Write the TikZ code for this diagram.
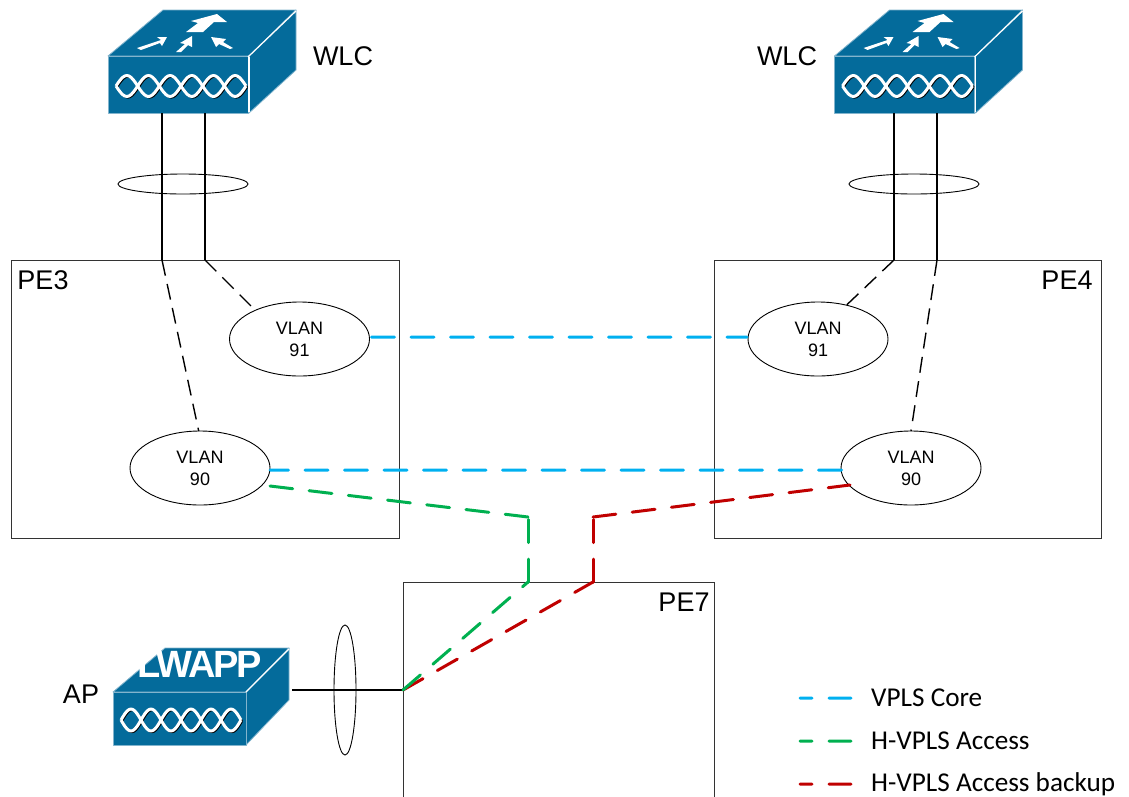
\documentclass[tikz,border=0pt]{standalone}
\usetikzlibrary{shapes.geometric}
\usepackage{fontspec}
\setmainfont{Liberation Sans}
\newfontfamily\legendfont{Carlito}
\definecolor{ciscoblue}{RGB}{4,107,155}
\definecolor{edgeblue}{RGB}{130,180,205}
\definecolor{corecol}{RGB}{0,176,240}
\definecolor{accesscol}{RGB}{0,176,80}
\definecolor{backupcol}{RGB}{192,0,0}
\tikzset{
  face/.style={fill=ciscoblue,draw=edgeblue,line width=0.8pt,line join=round},
  wh/.style={fill=white,draw=none},
  pebox/.style={draw=black!80,line width=0.9pt,fill=none,outer sep=0pt,inner sep=0pt},
  vlan/.style={draw=black,line width=0.9pt,ellipse,minimum width=140pt,minimum height=74pt,inner sep=0pt,outer sep=0pt,align=center,font=\fontsize{18}{22}\selectfont,fill=white},
  lag/.style={draw=black,line width=0.9pt,ellipse,inner sep=0pt,outer sep=0pt,fill=none},
  biglabel/.style={font=\fontsize{27}{30}\selectfont,inner sep=0pt},
  legendlabel/.style={font=\legendfont\fontsize{27.2}{30}\selectfont,inner sep=0pt,anchor=west},
  trunk/.style={draw=black,line width=1.5pt},
  sublink/.style={draw=black,line width=1.4pt,dash pattern=on 16pt off 8.5pt},
  colorlink/.style={line width=3pt,line cap=round,dash pattern=on 23pt off 16.5pt},
  legendline/.style={line width=3pt,line cap=round,dash pattern=on 22pt off 17pt}
}
\newcommand{\twist}[4]{% x0, x1, yc, amplitude
  \foreach \col/\lw/\sx/\sy in {black/1.8pt/1.2/1.2,white/3pt/0/0}{
    \draw[\col,line width=\lw,line join=round,shift={(\sx,\sy)}] plot[smooth,domain=0:1,samples=61] ({#1+(#2-#1)*\x},{#3+#4*sin(6*180*\x)});
    \draw[\col,line width=\lw,line join=round,shift={(\sx,\sy)}] plot[smooth,domain=0:1,samples=61] ({#1+(#2-#1)*\x},{#3-#4*sin(6*180*\x)});
  }
}
\newcommand{\wlcbox}[2]{% offset x, y
  \begin{scope}[shift={(#1,#2)}]
    \fill[white] (108,56)--(163,10)--(296,10)--(296,72)--(249,113)--(108,113)--cycle;
    \filldraw[face] (108,56)--(163,10)--(296,10)--(249,56)--cycle;
    \filldraw[face] (249,56)--(296,10)--(296,70)--(249,113)--cycle;
    \filldraw[face] (108,56) rectangle (248,113);
    \draw[white,line width=1.2pt] (248,57)--(296,11);
    \draw[white,line width=1.2pt] (249,57)--(249,112);
    \twist{116}{246}{86}{10.5}
    % arrows on top
    \fill[wh] (186,32)--(198,23)--(191,21)--(217,14)--(227,22)--(214,22)--(203,32)--cycle;
    \fill[wh] (137,48)--(161,40)--(157,37)--(167,37)--(162,46)--(160,43)--(141,50)--cycle;
    \fill[wh] (176,52)--(185,44)--(180,43)--(192,36)--(192,47)--(188,45)--(181,52)--cycle;
    \fill[wh] (211,37)--(226,39)--(223,42)--(233,48)--(230,49)--(219,44)--(216,47)--cycle;
  \end{scope}
}
\begin{document}
\begin{tikzpicture}[x=1pt,y=-1pt]
\useasboundingbox (0,0) rectangle (1129,796);
\clip (0,0) rectangle (1129,796);

% devices
\wlcbox{0}{0}
\wlcbox{726.5}{0}
\coordinate (wl1) at (162,113);
\coordinate (wl2) at (205,113);
\coordinate (wr1) at (894,113);
\coordinate (wr2) at (937,113);

% AP
\fill[white] (113,692)--(165,648)--(289,648)--(289,700)--(246,745)--(113,745)--cycle;
\filldraw[face] (113,692)--(165,648)--(289,648)--(246,692)--cycle;
\filldraw[face] (246,692)--(289,648)--(289,700)--(246,745)--cycle;
\filldraw[face] (113,692) rectangle (246,745);
\draw[white,line width=1.2pt] (246,692)--(289,649);
\twist{121}{241}{720}{11}
\node[font=\fontsize{38}{40}\selectfont\bfseries,text=white,inner sep=0pt,anchor=base east] (lwapp) at (262,677) {\addfontfeature{LetterSpace=-6}LWAPP};

% PE boxes
\node[pebox,minimum width=388pt,minimum height=278pt,anchor=north west] (pe3) at (11,260) {};
\node[pebox,minimum width=387pt,minimum height=278pt,anchor=north west] (pe4) at (714,260) {};
\node[pebox,minimum width=311pt,minimum height=300pt,anchor=north west] (pe7) at (403,582) {};

% VLANs
\node[vlan] (v91l) at (299.5,339) {VLAN\\91};
\node[vlan] (v90l) at (200,468) {VLAN\\90};
\node[vlan] (v91r) at (818,339) {VLAN\\91};
\node[vlan] (v90r) at (911,468) {VLAN\\90};

% junctions
\coordinate (jl1) at (162,260);
\coordinate (jl2) at (205,260);
\coordinate (jr1) at (894,260);
\coordinate (jr2) at (937,260);
\coordinate (gbend1) at (528,517);
\coordinate (gbend2) at (528,582);
\coordinate (rbend1) at (593,517);
\coordinate (rbend2) at (593,582);
\coordinate (pe7in) at (403,690);
\coordinate (apout) at (292,690);
\coordinate (core91a) at (371.5,337);
\coordinate (core91b) at (747,337.2);
\coordinate (core90a) at (270,470.2);
\coordinate (core90b) at (841.5,470);
\coordinate (gend) at (270,486);
\coordinate (rend) at (850,485);

% trunks
\draw[trunk] (wl1)--(jl1);
\draw[trunk] (wl2)--(jl2);
\draw[trunk] (wr1)--(jr1);
\draw[trunk] (wr2)--(jr2);
\draw[trunk,line width=1.2pt] (apout)--(pe7in);

% LAG rings
\node[lag,minimum width=130pt,minimum height=20pt] (lagl) at (183,184) {};
\node[lag,minimum width=130pt,minimum height=20pt] (lagr) at (914,184) {};
\node[lag,minimum width=22pt,minimum height=130pt] (laga) at (345,690) {};

% sub-interface links
\draw[sublink] (jl1)--(v90l.92);
\draw[sublink] (jl2)--(v91l.147);
\draw[sublink] (jr1)--(v91r.50);
\draw[sublink] (jr2)--(v90r.north);

% coloured links
\draw[colorlink,corecol] (core91a)--(core91b);
\draw[colorlink,corecol] (core90b)--(core90a);
\draw[colorlink,backupcol] (pe7in)--(rbend2);
\draw[colorlink,backupcol] (rbend2)--(rbend1);
\draw[colorlink,backupcol] (rbend1)--(rend);
\draw[colorlink,accesscol] (pe7in)--(gbend2);
\draw[colorlink,accesscol] (gbend2)--(gbend1);
\draw[colorlink,accesscol] (gbend1)--(gend);

% labels
\node[biglabel] (t1) at (343,56) {WLC};
\node[biglabel] (t2) at (787,56) {WLC};
\node[biglabel] (t3) at (81,694) {AP};
\node[biglabel] (t4) at (43,280) {PE3};
\node[biglabel] (t5) at (1067,280) {PE4};
\node[biglabel] (t6) at (684,602) {PE7};

% legend
\coordinate (la1) at (800,698);\coordinate (la2) at (851,698.2);
\coordinate (lb1) at (800,741);\coordinate (lb2) at (851,741.2);
\coordinate (lc1) at (800,784);\coordinate (lc2) at (851,784.2);
\draw[legendline,corecol] (la2)--(la1);
\draw[legendline,accesscol] (lb2)--(lb1);
\draw[legendline,backupcol] (lc2)--(lc1);
\node[legendlabel] (l1) at (871,698) {VPLS Core};
\node[legendlabel] (l2) at (871,741) {H-VPLS Access};
\node[legendlabel] (l3) at (871,784) {H-VPLS Access backup};
\end{tikzpicture}
\end{document}
